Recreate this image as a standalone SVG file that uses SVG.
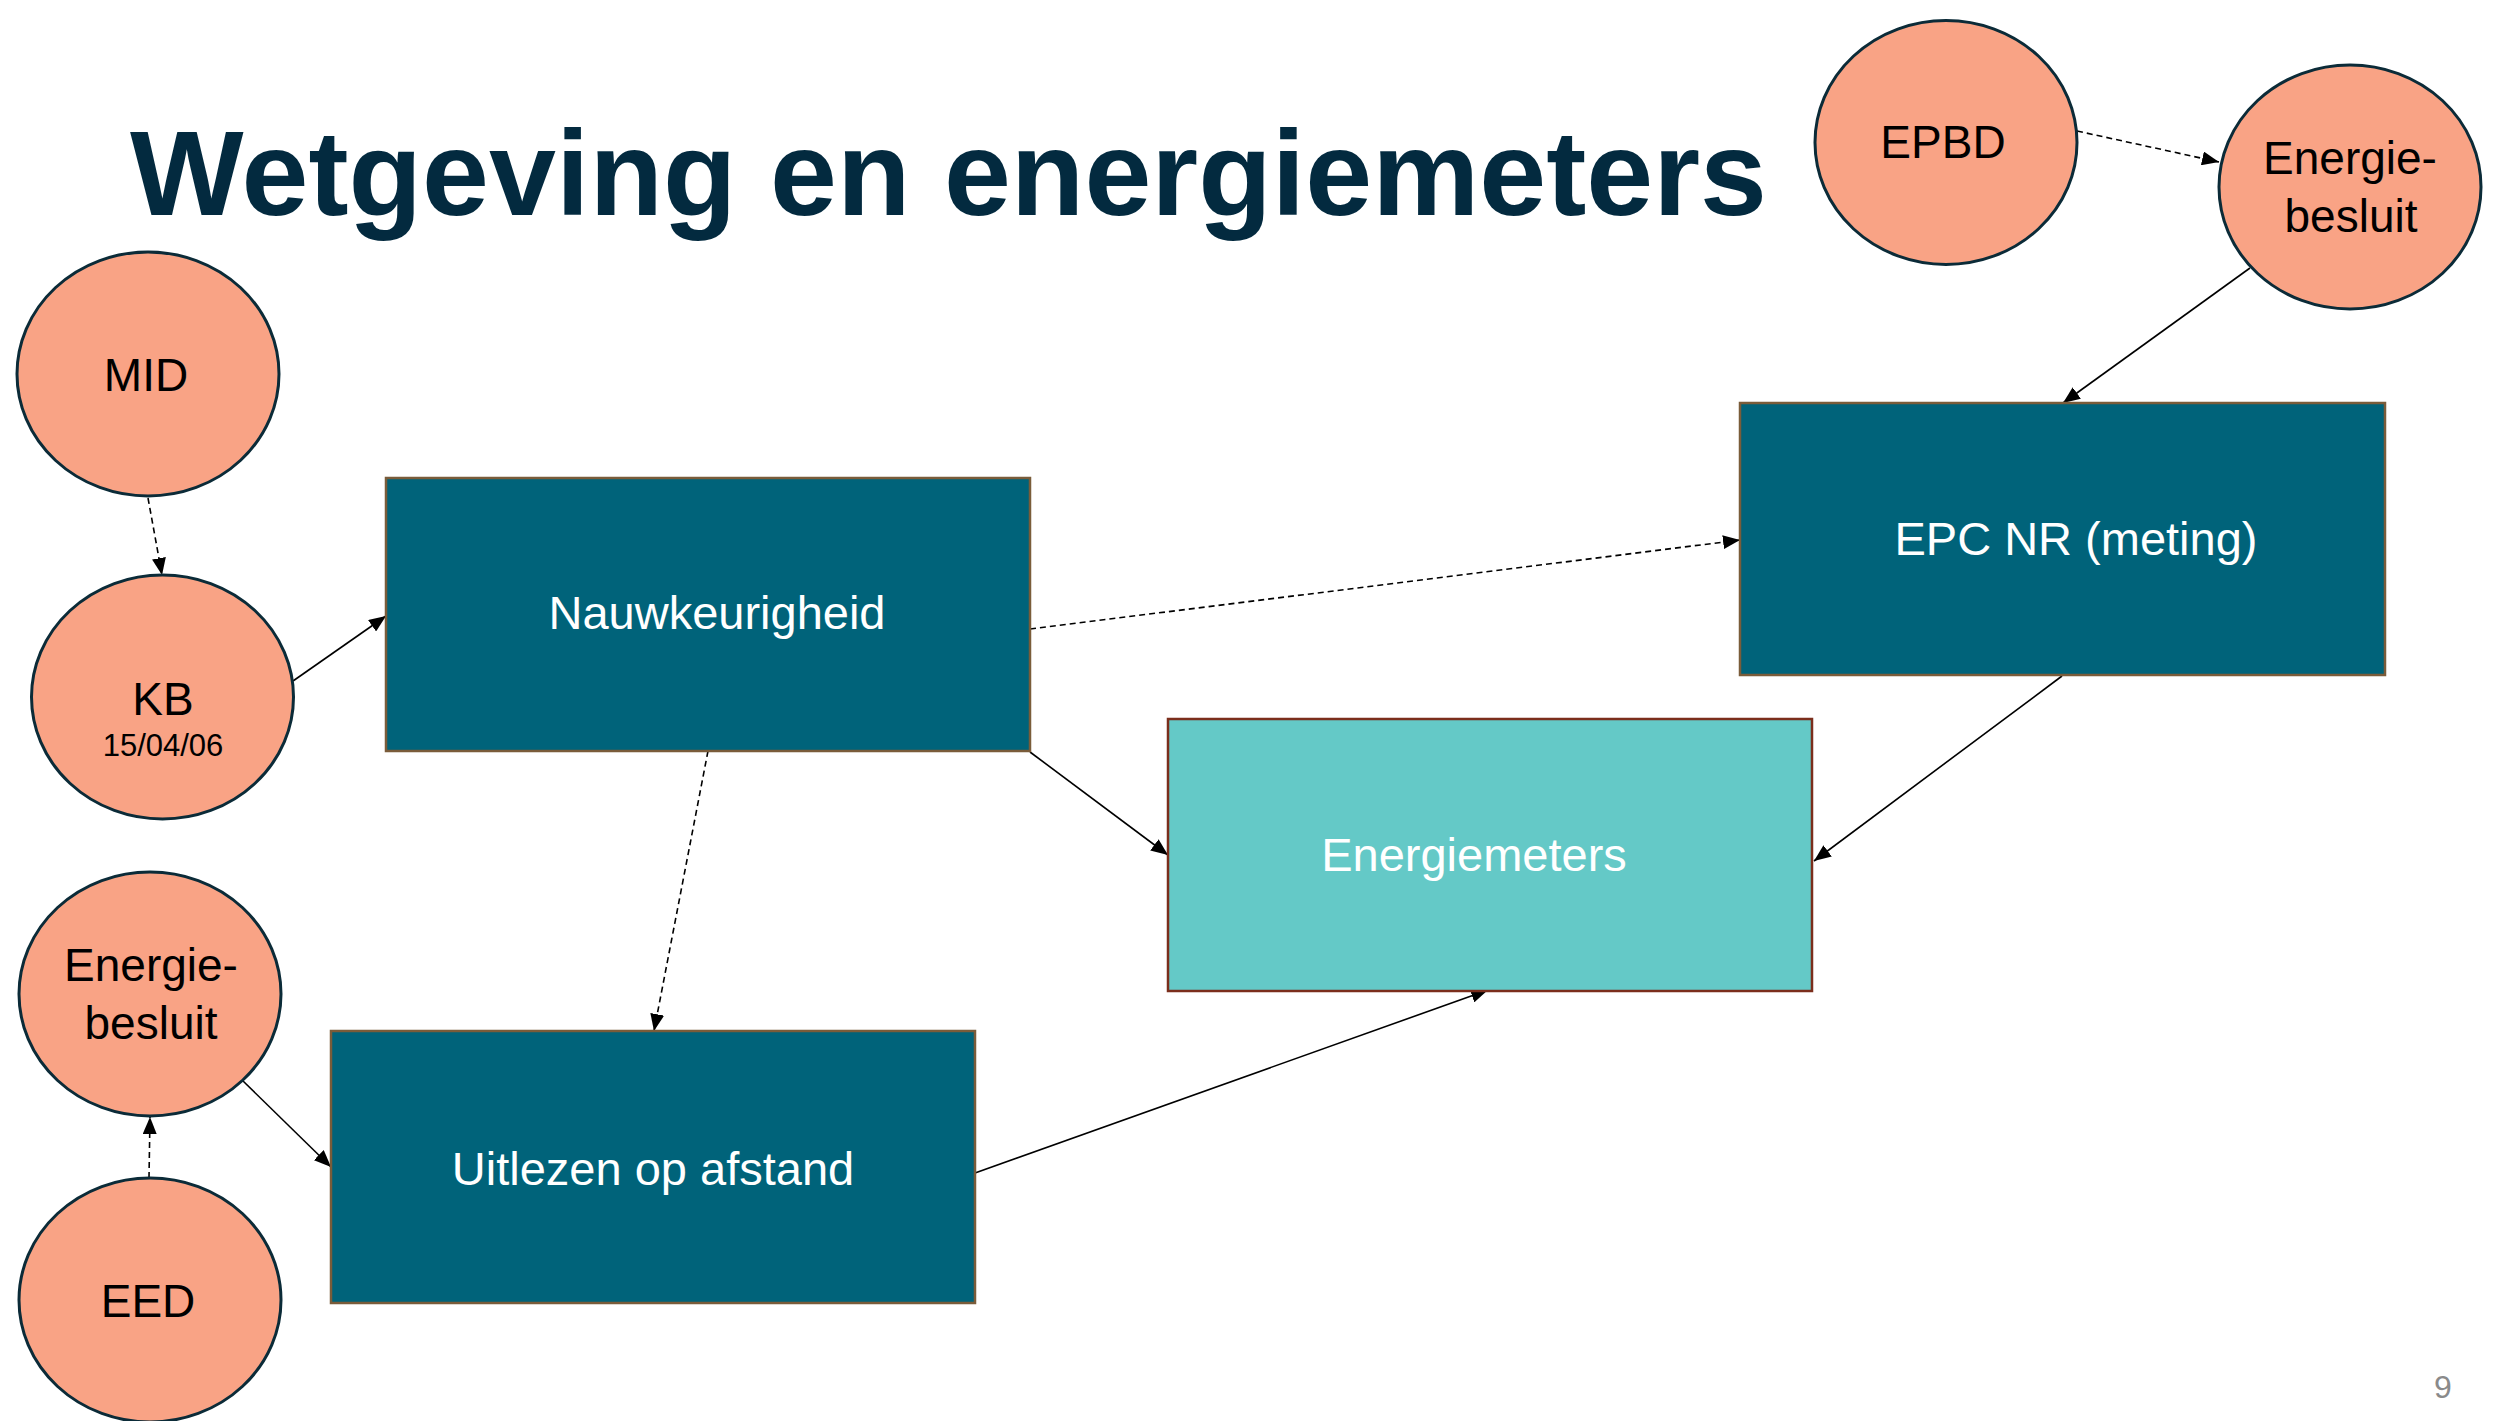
<svg xmlns="http://www.w3.org/2000/svg" width="2503" height="1421" viewBox="0 0 2503 1421">
<defs>
<style>
.circ{fill:#F9A385;stroke:#0B2B38;stroke-width:3}
.box{fill:#00637A;stroke:#7A5C3A;stroke-width:2.5}
.box2{fill:#64C9C7;stroke:#7B2E1C;stroke-width:2.5}
.ct{font-family:"Liberation Sans",Arial,sans-serif;font-size:46px;fill:#000;text-anchor:middle}
.bt{font-family:"Liberation Sans",Arial,sans-serif;font-size:47px;fill:#FFFFFF;text-anchor:middle}
.solid{stroke:#000;stroke-width:1.6;fill:none;marker-end:url(#ah)}
.dash{stroke:#000;stroke-width:1.6;fill:none;stroke-dasharray:6 4;marker-end:url(#ah)}
</style>
<marker id="ah" markerUnits="userSpaceOnUse" markerWidth="18" markerHeight="14" refX="17" refY="7" orient="auto">
<path d="M0,0 L17,7 L0,14 z" fill="#000"/>
</marker>
</defs>
<rect x="0" y="0" width="2503" height="1421" fill="#FFFFFF"/>
<text id="title" x="130" y="215" font-family="Liberation Sans,Arial,sans-serif" font-weight="bold" font-size="120" fill="#032A3F" textLength="1637" lengthAdjust="spacingAndGlyphs">Wetgeving en energiemeters</text>

<g id="connectors">
<line class="dash" x1="148" y1="498" x2="162" y2="575"/>
<line class="solid" x1="293" y1="681" x2="386" y2="616"/>
<line class="dash" x1="1030" y1="629" x2="1740" y2="540"/>
<line class="dash" x1="708" y1="751" x2="654" y2="1031"/>
<line class="solid" x1="1030" y1="752" x2="1168" y2="855"/>
<line class="dash" x1="2077" y1="131" x2="2219" y2="162"/>
<line class="solid" x1="2250" y1="268" x2="2063" y2="403"/>
<line class="solid" x1="2062" y1="676" x2="1814" y2="861"/>
<line class="dash" x1="149" y1="1178" x2="150" y2="1117"/>
<line class="solid" x1="243" y1="1081" x2="331" y2="1167"/>
<line class="solid" x1="975" y1="1173" x2="1488" y2="990"/>
</g>

<g id="mid">
<ellipse class="circ" cx="148" cy="374" rx="131" ry="122"/>
<text class="ct" x="146" y="391">MID</text>
</g>
<g id="kb">
<ellipse class="circ" cx="162.5" cy="697" rx="131" ry="122"/>
<text class="ct" x="163" y="715">KB</text>
<text class="ct" x="163" y="756" style="font-size:31px">15/04/06</text>
</g>
<g id="epbd">
<ellipse class="circ" cx="1946" cy="142.5" rx="131" ry="122"/>
<text class="ct" x="1943" y="158">EPBD</text>
</g>
<g id="energiebesluit-right">
<ellipse class="circ" cx="2350" cy="187" rx="131" ry="122"/>
<text class="ct" x="2350" y="174">Energie-</text>
<text class="ct" x="2351" y="232">besluit</text>
</g>
<g id="energiebesluit-left">
<ellipse class="circ" cx="150" cy="994" rx="131" ry="122"/>
<text class="ct" x="151" y="981">Energie-</text>
<text class="ct" x="151" y="1039">besluit</text>
</g>
<g id="eed">
<ellipse class="circ" cx="150" cy="1300" rx="131" ry="122"/>
<text class="ct" x="148" y="1317">EED</text>
</g>

<g id="nauwkeurigheid">
<rect class="box" x="386" y="478" width="644" height="273"/>
<text class="bt" x="717" y="629">Nauwkeurigheid</text>
</g>
<g id="epc">
<rect class="box" x="1740" y="403" width="645" height="272"/>
<text class="bt" x="2076" y="555">EPC NR (meting)</text>
</g>
<g id="energiemeters">
<rect class="box2" x="1168" y="719" width="644" height="272"/>
<text class="bt" x="1474" y="871">Energiemeters</text>
</g>
<g id="uitlezen">
<rect class="box" x="331" y="1031" width="644" height="272"/>
<text class="bt" x="653" y="1185">Uitlezen op afstand</text>
</g>

<text id="page" x="2443" y="1398" font-family="Liberation Sans,Arial,sans-serif" font-size="32" fill="#8A8A8A" text-anchor="middle">9</text>
</svg>
